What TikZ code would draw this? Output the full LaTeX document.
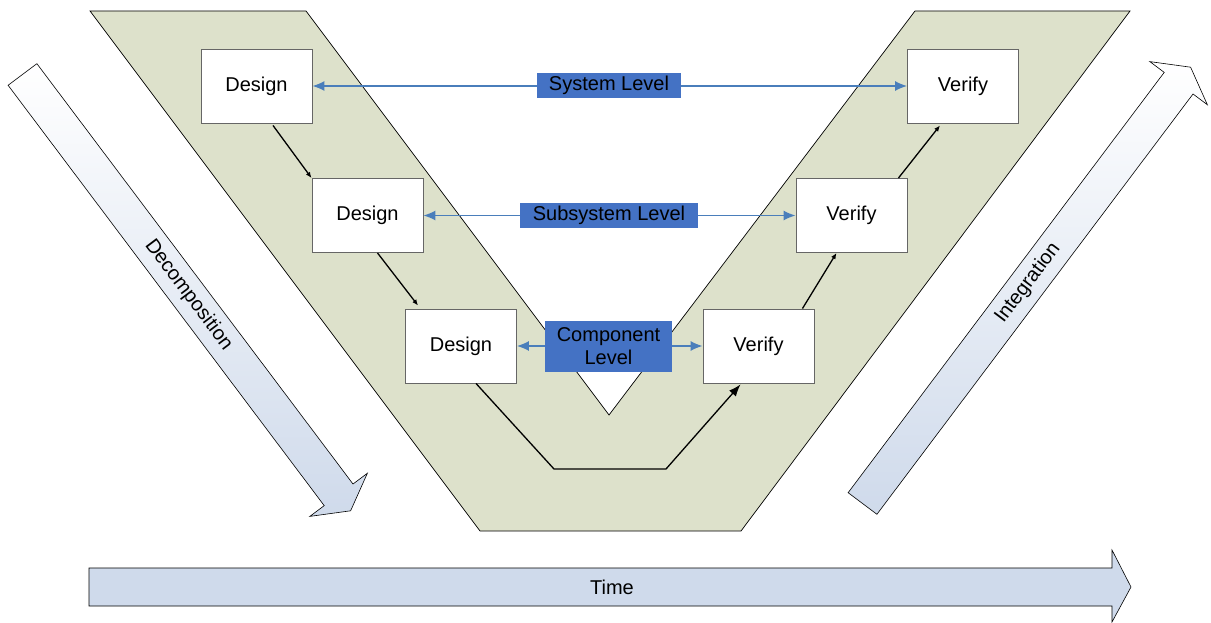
\documentclass[tikz,border=0pt]{standalone}
\usepackage{fontspec}
\setmainfont{Liberation Sans}
\usetikzlibrary{arrows.meta,calc}
\definecolor{vfill}{RGB}{221,225,203}
\definecolor{lblue}{RGB}{68,114,196}
\definecolor{ablue}{RGB}{74,126,187}
\definecolor{tblue}{RGB}{207,218,235}
\begin{document}
\begin{tikzpicture}[x=1pt,y=-1pt,
  stagebox/.style={draw=black!60, fill=white, line width=0.9pt, minimum width=111pt, minimum height=74pt, inner sep=0pt, font=\fontsize{20}{24}\selectfont},
  levellabel/.style={fill=lblue, inner sep=0pt, text=black, align=center, font=\fontsize{20}{24}\selectfont},
  levelarrow/.style={draw=ablue, line width=1.3pt, {Latex[length=12pt,width=10pt]}-{Latex[length=12pt,width=10pt]}},
  flow/.style={draw=black, line width=1.3pt, -{Latex[length=6pt,width=5pt]}},
  bigarrow/.style={draw=black, line width=0.6pt},
  arrowtext/.style={font=\fontsize{20}{24}\selectfont, inner sep=0pt}
]
\useasboundingbox (0,0) rectangle (1211,623);

% V band
\draw[fill=vfill, draw=black, line width=0.7pt]
  (90,11) -- (306,11) -- (609,415) -- (915,11) -- (1130,11) -- (741,531) -- (480,531) -- cycle;

% Decomposition arrow
\draw[bigarrow, top color=white, bottom color=tblue]
  (8.1,85.3) -- (36.9,63.7) -- (353.0,484.0) -- (367.4,473.2) -- (350.6,510.8)
  -- (309.8,516.4) -- (324.2,505.6) -- cycle;
\node[arrowtext, rotate=-53] (dectext) at (188.5,295) {Decomposition};

% Integration arrow
\draw[bigarrow, top color=white, bottom color=tblue]
  (848.1,492.7) -- (1164.2,72.4) -- (1149.8,61.6) -- (1190.6,67.2) -- (1207.4,104.8)
  -- (1193.0,94.0) -- (876.9,514.3) -- cycle;
\node[arrowtext, rotate=53] (inttext) at (1028,283) {Integration};

% Time arrow
\draw[bigarrow, fill=tblue]
  (89,568) -- (1112,568) -- (1112,550) -- (1131,587) -- (1112,622) -- (1112,606) -- (89,606) -- cycle;
\node[arrowtext] (timetext) at (612,587) {Time};

% Stage boxes
\node[stagebox] (d1) at (256.5,86) {Design};
\node[stagebox] (d2) at (367.5,215.5) {Design};
\node[stagebox] (d3) at (461,346) {Design};
\node[stagebox] (v3) at (758.5,346) {Verify};
\node[stagebox] (v2) at (851.5,215.5) {Verify};
\node[stagebox] (v1) at (963,86) {Verify};

% Level arrows
\draw[levelarrow] (d1.east) -- (v1.west);
\draw[levelarrow] (d2.east) -- (v2.west);
\draw[levelarrow] (d3.east) -- (v3.west);
\node[levellabel, minimum width=144pt, minimum height=25pt] (sys) at (609,85.5) {System Level};
\node[levellabel, minimum width=178pt, minimum height=25pt] (sub) at (609,215.5) {Subsystem Level};
\node[levellabel, minimum width=127pt, minimum height=51pt, font=\fontsize{20}{23}\selectfont] (comp) at (608.5,346.5) {Component\\Level};

% Flow connectors
\draw[flow] ([xshift=16.5pt,yshift=-2pt]d1.south) -- (d2.north west);
\draw[flow] ([xshift=10pt]d2.south) -- ([xshift=13pt,yshift=3pt]d3.north west);
\coordinate (b1) at (554,469);
\coordinate (b2) at (666,469);
\draw[draw=black, line width=1.3pt, -{Latex[length=12pt,width=9pt]}]
  ([xshift=15pt]d3.south) -- (b1) -- (b2) -- ([xshift=-18pt,yshift=-1pt]v3.south);
\draw[flow] ([xshift=-12pt]v3.north east) -- ([xshift=-15pt]v2.south);
\draw[flow] ([xshift=-9pt]v2.north east) -- ([xshift=-23pt,yshift=-2pt]v1.south);
\end{tikzpicture}
\end{document}
